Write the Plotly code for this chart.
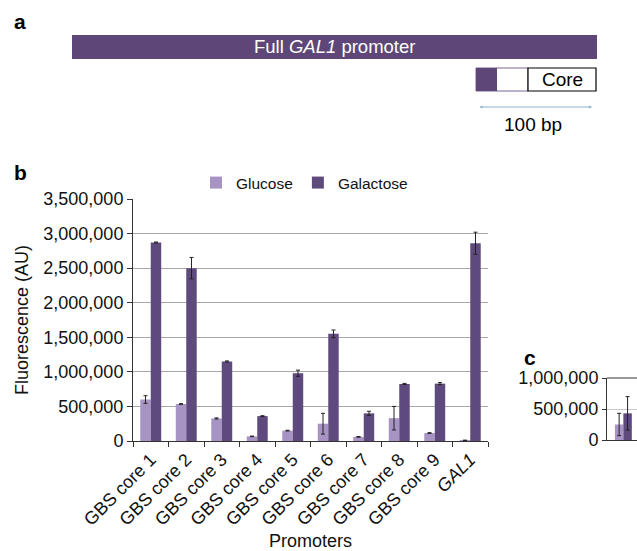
import plotly.graph_objects as go

W, H = 637, 551

# ---- data (panel b) ----
promoters = ["GBS core 1", "GBS core 2", "GBS core 3", "GBS core 4", "GBS core 5",
             "GBS core 6", "GBS core 7", "GBS core 8", "GBS core 9", "<i>GAL1</i>"]
glucose = [600000, 535000, 326000, 67000, 150000, 250000, 60000, 330000, 115000, 10000]
glucose_err = [55000, 5000, 8000, 4000, 5000, 150000, 5000, 170000, 5000, 2000]
galactose = [2870000, 2500000, 1150000, 360000, 980000, 1550000, 400000, 825000, 830000, 2860000]
galactose_err = [8000, 155000, 8000, 6000, 45000, 55000, 30000, 8000, 15000, 160000]

# ---- data (panel c, partially shown) ----
c_cat = [0]
c_glucose = [250000]
c_glucose_err = [180000]
c_galactose = [430000]
c_galactose_err = [270000]

y_ticks = [0, 500000, 1000000, 1500000, 2000000, 2500000, 3000000, 3500000]
c_ticks = [0, 500000, 1000000]

LIGHT = "#a794c4"
DARK = "#5f4a7d"
FONT = "Liberation Sans, Arial, sans-serif"


def px(x):
    return x / W


def py(y):
    return 1 - y / H


fig = go.Figure()

err_style = dict(type="data", color="#222222", thickness=1, width=2)

fig.add_trace(go.Bar(x=promoters, y=glucose, name="Glucose", marker_color=LIGHT,
                     marker_line=dict(width=0),
                     error_y=dict(array=glucose_err, **err_style),
                     xaxis="x", yaxis="y"))
fig.add_trace(go.Bar(x=promoters, y=galactose, name="Galactose", marker_color=DARK,
                     marker_line=dict(width=0),
                     error_y=dict(array=galactose_err, **err_style),
                     xaxis="x", yaxis="y"))

fig.add_trace(go.Bar(x=c_cat, y=c_glucose, showlegend=False, marker_color=LIGHT,
                     marker_line=dict(width=0), width=0.31, offset=-0.31,
                     error_y=dict(array=c_glucose_err, **err_style),
                     xaxis="x2", yaxis="y2"))
fig.add_trace(go.Bar(x=c_cat, y=c_galactose, showlegend=False, marker_color=DARK,
                     marker_line=dict(width=0), width=0.31, offset=0.0,
                     error_y=dict(array=c_galactose_err, **err_style),
                     xaxis="x2", yaxis="y2"))

tick_font = dict(family=FONT, size=18, color="#111111")
cat_font = dict(family=FONT, size=18, color="#111111")

fig.update_layout(
    width=W, height=H,
    margin=dict(l=0, r=0, t=0, b=0, autoexpand=False),
    paper_bgcolor="white", plot_bgcolor="white",
    barmode="group", bargap=0.41, bargroupgap=0,
    font=dict(family=FONT, size=17, color="#111111"),
    showlegend=True,
    legend=dict(orientation="h", x=px(196), y=py(183), xanchor="left", yanchor="middle",
                font=dict(family=FONT, size=15.5), bgcolor="rgba(0,0,0,0)",
                itemwidth=30, itemsizing="constant"),
    xaxis=dict(domain=[px(133), px(488)], anchor="y", type="category", automargin=False,
               tickangle=-45, tickfont=cat_font, ticks="outside", tickson="boundaries",
               ticklen=5, tickcolor="#333333", showline=True, linecolor="#333333",
               linewidth=1, showgrid=False,
               title=dict(text="Promoters", font=dict(family=FONT, size=18), standoff=6)),
    yaxis=dict(domain=[py(441), py(199)], anchor="x", range=[0, 3500000], automargin=False,
               tickvals=y_ticks, tickformat=",d", tickfont=tick_font,
               ticks="outside", ticklen=5, tickcolor="#333333",
               showline=True, linecolor="#333333", linewidth=1,
               showgrid=True, gridcolor="#a8a8a8", gridwidth=1, zeroline=False,
               title=dict(text="Fluorescence (AU)", font=dict(family=FONT, size=18), standoff=10)),
    xaxis2=dict(domain=[px(607), 1], anchor="y2", range=[-0.6, 0.5], automargin=False,
                showticklabels=False, ticks="", showgrid=False, showline=True,
                linecolor="#333333", linewidth=1, zeroline=False),
    yaxis2=dict(domain=[py(440), py(378)], anchor="x2", range=[0, 1000000], automargin=False,
                tickvals=c_ticks, tickformat=",d", tickfont=tick_font,
                ticks="outside", ticklen=4, tickcolor="#333333",
                showline=True, linecolor="#333333", linewidth=1,
                showgrid=True, gridcolor="#c8c8c8", zeroline=False),
)

shapes = []
annotations = []


def label(text, x, y, size=19, color="#000000", xanchor="center"):
    annotations.append(dict(text=text, x=px(x), y=py(y), xref="paper", yref="paper",
                            showarrow=False, xanchor=xanchor, yanchor="middle",
                            font=dict(family=FONT, size=size, color=color)))


# panel labels
for lab, x, y in [("a", 12, 22), ("b", 12, 172), ("c", 522, 357)]:
    label(f"<b>{lab}</b>", x, y, size=21, xanchor="left")

# panel a: full promoter bar
shapes.append(dict(type="rect", xref="paper", yref="paper", x0=px(72), x1=px(597),
                   y0=py(59), y1=py(35), fillcolor="#5e4778", line=dict(width=0)))
label("Full <i>GAL1</i> promoter", 334.5, 46.5, size=18.5, color="white")

# panel a: core construct
shapes.append(dict(type="rect", xref="paper", yref="paper", x0=px(476), x1=px(528),
                   y0=py(91), y1=py(68), fillcolor="white",
                   line=dict(color="#7a6794", width=1)))
shapes.append(dict(type="rect", xref="paper", yref="paper", x0=px(476), x1=px(497),
                   y0=py(91), y1=py(68), fillcolor="#5e4778", line=dict(width=0)))
shapes.append(dict(type="rect", xref="paper", yref="paper", x0=px(528), x1=px(596),
                   y0=py(91), y1=py(68), fillcolor="white",
                   line=dict(color="#000000", width=1.2)))
label("Core", 562, 79.5)

# scale bar (double-headed)
annotations.append(dict(x=px(592), y=py(107), ax=-114, ay=0,
                        xref="paper", yref="paper", axref="pixel", ayref="pixel",
                        showarrow=True, arrowhead=2, arrowside="end+start", arrowsize=0.6,
                        arrowwidth=1, arrowcolor="#8fb0cc", text=""))
label("100 bp", 533, 124)

# panel c: top frame line
shapes.append(dict(type="line", xref="paper", yref="paper", x0=px(607), x1=1,
                   y0=py(378), y1=py(378), line=dict(color="#333333", width=1)))

fig.update_layout(shapes=shapes, annotations=annotations)

fig.write_html("out.html")
